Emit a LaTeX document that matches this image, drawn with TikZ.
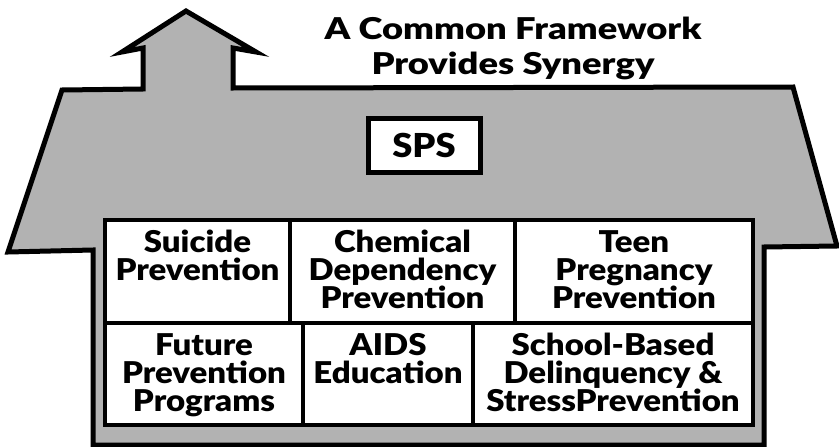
\documentclass[tikz,border=0pt]{standalone}
\usepackage{fontspec}
\newfontfamily\hb{Lato Black}[FakeStretch=1.1]
\newfontfamily\tb{Lato Black}[FakeStretch=1.21]
\begin{document}
\begin{tikzpicture}[x=1pt,y=-1pt, line join=miter,
  house/.style={draw=black, line width=5pt, fill=black!30},
  cell/.style={draw=black, line width=3.5pt, fill=white, inner sep=0pt},
  lbl/.style={font=\hb\fontsize{30}{28}\selectfont, align=center, inner sep=0pt, anchor=north},
]
\useasboundingbox (0,0) rectangle (839,447);
\draw[house] (186,11) -- (256,52) -- (233,48) -- (233,88) -- (793,87) -- (837,246) -- (764,247) -- (764,445) -- (93,445) -- (93,250) -- (8,252) -- (62,90) -- (143,89) -- (143,48) -- (122,52) -- cycle;

\node[font=\tb\fontsize{30}{35}\selectfont, align=center, anchor=north, inner sep=0pt] (title) at (513,17) {A Common Framework\\Provides Synergy};

\node[cell, line width=5pt, minimum width=112pt, minimum height=54pt, font=\hb\fontsize{33}{33}\selectfont] (sps) at (424,145) {SPS};

% top row
\node[cell, minimum width=185pt, minimum height=103pt] (c1) at (197.5,271.5) {};
\node[cell, minimum width=225pt, minimum height=103pt] (c2) at (402.5,271.5) {};
\node[cell, minimum width=238pt, minimum height=103pt] (c3) at (634,271.5) {};
% bottom row
\node[cell, minimum width=198pt, minimum height=102pt] (c4) at (204,374) {};
\node[cell, minimum width=170pt, minimum height=102pt] (c5) at (388,374) {};
\node[cell, minimum width=280pt, minimum height=102pt] (c6) at (613,374) {};
\node[draw, line width=4.5pt, minimum width=648pt, minimum height=205pt, inner sep=0pt] (frame) at (429,322.5) {};

\node[lbl] (t1) at ([yshift=-12pt]c1.north) {Suicide\\Prevention};
\node[lbl] (t2) at ([yshift=-12pt]c2.north) {Chemical\\Dependency\\Prevention};
\node[lbl] (t3) at ([yshift=-12pt]c3.north) {Teen\\Pregnancy\\Prevention};
\node[lbl] (t4) at ([yshift=-12pt]c4.north) {Future\\Prevention\\Programs};
\node[lbl] (t5) at ([yshift=-12pt]c5.north) {AIDS\\Education};
\node[lbl] (t6) at ([yshift=-12pt]c6.north) {School-Based\\Delinquency \&\\StressPrevention};
\end{tikzpicture}
\end{document}
